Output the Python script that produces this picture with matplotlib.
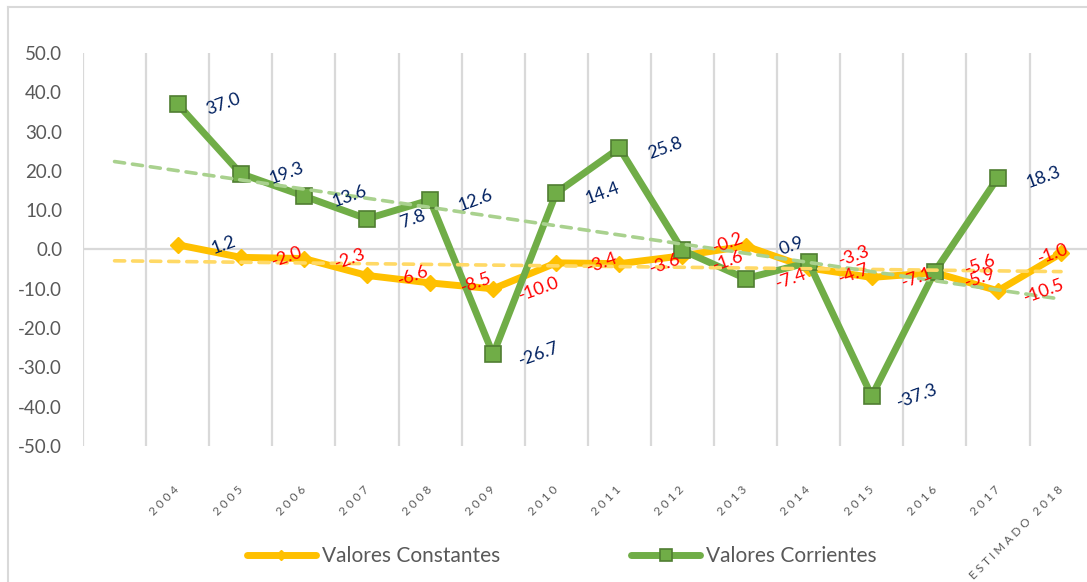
import numpy as np
import matplotlib
matplotlib.use("Agg")
import matplotlib.pyplot as plt
from matplotlib.lines import Line2D

plt.rcParams['font.family'] = ['Lato', 'DejaVu Sans']

# datos
years = ['2004', '2005', '2006', '2007', '2008', '2009', '2010', '2011', '2012',
         '2013', '2014', '2015', '2016', '2017', 'ESTIMADO 2018']
constantes = [1.2, -2.0, -2.3, -6.6, -8.5, -10.0, -3.4, -3.6, -1.6, 0.9,
              -4.7, -7.1, -5.9, -10.5, -1.0]
corrientes = [37.0, 19.3, 13.6, 7.8, 12.6, -26.7, 14.4, 25.8, -0.2, -7.4,
              -3.3, -37.3, -5.6, 18.3]
y_ticks = [-50, -40, -30, -20, -10, 0, 10, 20, 30, 40, 50]
# etiquetas de corrientes que salen en rojo
corrientes_red_years = ['2012', '2013', '2014', '2016']

YELLOW = '#FFC000'
GREEN = '#70AD47'
GREEN_EDGE = '#507E32'
YELLOW_TREND = '#FFD966'
GREEN_TREND = '#A9D18E'
NAVY = '#002060'
RED = '#FF0000'
GRID = '#D9D9D9'
TXT = '#595959'

W, H = 1087, 582
fig = plt.figure(figsize=(W / 100, H / 100), dpi=100)
ax = fig.add_axes([83 / W, 136 / H, 1004 / W, 393 / H])
ax.set_xlim(-1.5, -1.5 + 1004 / 63.1)
ax.set_ylim(-50, 50)

x_c = np.arange(len(constantes))
x_g = np.arange(len(corrientes))

# rejilla vertical entre categorias y linea del cero
ax.vlines(np.arange(-1.5, 14, 1), -50, 50, color=GRID, lw=1.6, zorder=0)
ax.axhline(0, color=GRID, lw=1.6, zorder=1)

ax.plot(x_c, constantes, color=YELLOW, lw=5, marker='D', ms=8,
        mec=YELLOW, mfc=YELLOW, zorder=3, solid_joinstyle='round')
ax.plot(x_g, corrientes, color=GREEN, lw=5, marker='s', ms=11.5,
        mec=GREEN_EDGE, mew=1.2, mfc=GREEN, zorder=4, solid_joinstyle='round')

# lineas de tendencia (un periodo hacia atras, hasta 2018)
xt = np.array([-1, 14])
pc = np.polyfit(x_c, constantes, 1)
pg = np.polyfit(x_g, corrientes, 1)
ax.plot(xt, np.polyval(pc, xt), color=YELLOW_TREND, lw=2.6, dashes=(2.8, 2.2),
        dash_capstyle='round', zorder=5)
ax.plot(xt, np.polyval(pg, xt), color=GREEN_TREND, lw=2.6, dashes=(2.8, 2.2),
        dash_capstyle='round', zorder=5)

# etiquetas de datos
def add_label(x, v, color, dx=33, dy=0):
    ax.annotate(f'{v:.1f}', (x, v), xytext=(dx, dy), textcoords='offset points',
                ha='center', va='center', rotation=20, rotation_mode='anchor',
                fontsize=13, color=color, zorder=6)

for i, v in enumerate(constantes):
    col = RED if v < 0 else NAVY
    dx = -6 if i == len(constantes) - 1 else 33
    dy = 0
    if i < len(corrientes) and abs(corrientes[i] - v) < 2:
        dy = -4
    add_label(x_c[i], v, col, dx, dy)

for i, v in enumerate(corrientes):
    col = RED if years[i] in corrientes_red_years else NAVY
    dy = 5 if abs(constantes[i] - v) < 2 else 0
    add_label(x_g[i], v, col, 33, dy)

# ejes
ax.set_yticks(y_ticks)
ax.set_yticklabels([f'{t:.1f}' for t in y_ticks], fontsize=13.5, color=TXT)
ax.tick_params(axis='y', length=0, pad=15)
ax.set_xticks(np.arange(len(years)))
ax.set_xticklabels([' '.join(y) for y in years], rotation=45, ha='right',
                   va='center', rotation_mode='anchor', fontsize=8.5, color=TXT)
ax.tick_params(axis='x', length=0, pad=30)
for s in ax.spines.values():
    s.set_visible(False)

# borde del area del grafico
fig.add_artist(Line2D([8 / W, 8 / W], [0, 1 - 7 / H], transform=fig.transFigure,
                      color=GRID, lw=1.5))
fig.add_artist(Line2D([8 / W, 1], [1 - 7 / H, 1 - 7 / H], transform=fig.transFigure,
                      color=GRID, lw=1.5))

handles = [
    Line2D([], [], color=YELLOW, lw=5, marker='D', ms=5.5, mfc=YELLOW, mec=YELLOW,
           solid_capstyle='round'),
    Line2D([], [], color=GREEN, lw=5, marker='s', ms=8, mfc=GREEN, mec=GREEN_EDGE,
           mew=1.2, solid_capstyle='round'),
]
leg = fig.legend(handles, ['Valores Constantes', 'Valores Corrientes'],
                 loc='center', bbox_to_anchor=(562 / W, 1 - 556 / H), ncol=2,
                 frameon=False, fontsize=15, handlelength=3.3,
                 handletextpad=0.3, columnspacing=6.3)
for t in leg.get_texts():
    t.set_color(TXT)

fig.savefig('out.png', dpi=100)
